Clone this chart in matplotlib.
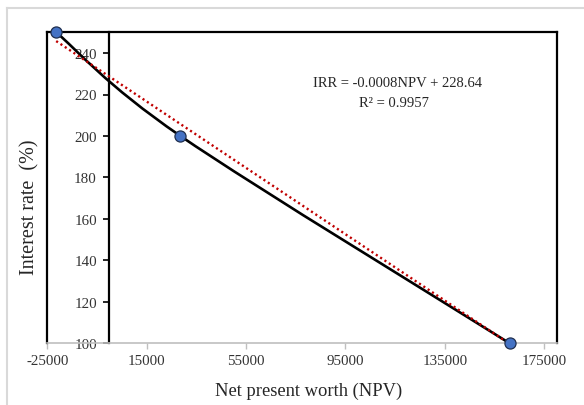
import matplotlib
matplotlib.use("Agg")
import matplotlib.pyplot as plt
import numpy as np
from matplotlib.path import Path
from matplotlib.patches import PathPatch
from matplotlib.lines import Line2D

plt.rcParams['font.family'] = ['Liberation Serif', 'DejaVu Serif']

npv = [-21400, 28600, 161150]
irr = [250, 200, 100]
slope = -0.0008
intercept = 228.64
r2 = 0.9957
xticks = [-25000, 15000, 55000, 95000, 135000, 175000]
yticks = [100, 120, 140, 160, 180, 200, 220, 240]

W, H = 584, 406
fig = plt.figure(figsize=(W / 100, H / 100), dpi=100)
fig.patch.set_facecolor('white')

# outer chart border (light gray, top and left visible)
fig.lines.append(Line2D([7 / W, 1.1], [1 - 9 / H, 1 - 9 / H],
                        transform=fig.transFigure, color='#d9d9d9', lw=1.5))
fig.lines.append(Line2D([7 / W, 7 / W], [1 - 9 / H, -0.1],
                        transform=fig.transFigure, color='#d9d9d9', lw=1.5))

left, right = 46.5 / W, 556.5 / W
bottom, top = 1 - 344.3 / H, 1 - 33.3 / H
ax = fig.add_axes([left, bottom, right - left, top - bottom])
ax.set_xlim(-25300, 180000)
ax.set_ylim(100, 250)

# smoothed line (Excel-like Bezier smoothing)
pts = np.column_stack([npv, irr]).astype(float)
n = len(pts)
verts = [tuple(pts[0])]
codes = [Path.MOVETO]
for i in range(n - 1):
    p_prev = pts[i - 1] if i > 0 else pts[i]
    p0, p1 = pts[i], pts[i + 1]
    p_next = pts[i + 2] if i + 2 < n else pts[i + 1]
    c1 = p0 + (p1 - p_prev) / 6.0
    c2 = p1 - (p_next - p0) / 6.0
    verts += [tuple(c1), tuple(c2), tuple(p1)]
    codes += [Path.CURVE4] * 3
ax.add_patch(PathPatch(Path(verts, codes), fill=False, edgecolor='black',
                       lw=1.9, zorder=3, capstyle='round'))

# trendline
tx = np.array([npv[0], npv[-1]], dtype=float)
ax.plot(tx, slope * tx + intercept, color='#c00000', lw=1.7,
        linestyle=(0, (0.9, 1.3)), zorder=4)

ax.plot(npv, irr, linestyle='none', marker='o', markersize=8,
        markerfacecolor='#4472c4', markeredgecolor='#1f2f4f',
        markeredgewidth=0.9, zorder=5, clip_on=False)

# spines
ax.spines['left'].set_position(('data', 0))
ax.spines['left'].set_color('black')
ax.spines['left'].set_linewidth(1.6)
ax.spines['top'].set_color('black')
ax.spines['top'].set_linewidth(1.6)
ax.spines['right'].set_color('black')
ax.spines['right'].set_linewidth(1.6)
ax.spines['bottom'].set_color('#bfbfbf')
ax.spines['bottom'].set_linewidth(1.2)
ax.plot([0, 0], [0, 1], transform=ax.transAxes, color='black', lw=1.6,
        clip_on=False, zorder=2)

ax.set_xticks(xticks)
ax.set_yticks(yticks)
ax.set_xticklabels([str(v) for v in xticks])
ax.set_yticklabels([str(v) for v in yticks])
ax.tick_params(axis='x', direction='out', length=4, width=1, color='#bfbfbf',
               labelsize=10.8, labelcolor='#333333', pad=4)
ax.tick_params(axis='y', direction='out', length=4, width=1.2, color='black',
               labelsize=10.8, labelcolor='#333333', pad=5)

fig.text(309 / W, 1 - 391 / H, 'Net present worth (NPV)', ha='center',
         va='center', fontsize=13.3, color='#262626')
fig.text(30 / W, 1 - 207.5 / H, 'Interest rate  (%)', ha='center', va='center',
         rotation=90, fontsize=14.5, color='#262626')

fig.text(398 / W, 1 - 83.5 / H, 'IRR = -0.0008NPV + 228.64', ha='center',
         va='center', fontsize=10.5, color='#262626')
fig.text(394 / W, 1 - 103.5 / H, 'R² = 0.9957', ha='center', va='center',
         fontsize=10.5, color='#262626')

fig.savefig('out.png', dpi=100, facecolor='white')
